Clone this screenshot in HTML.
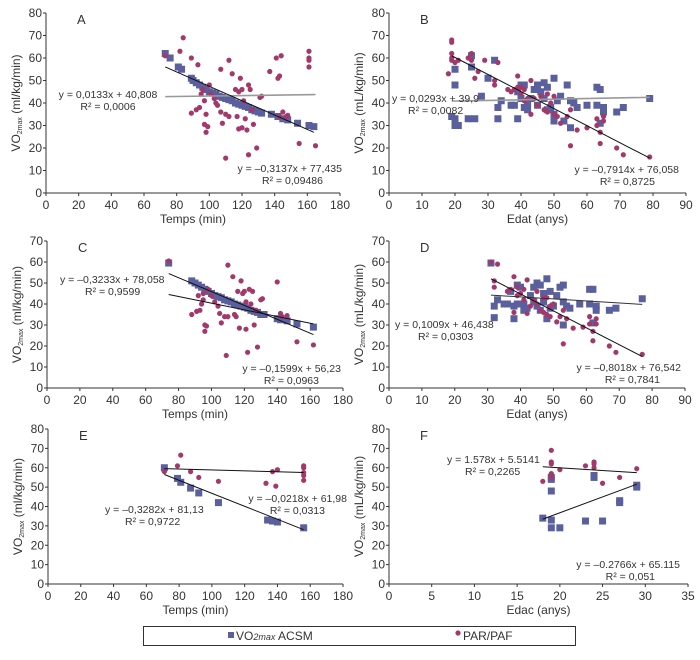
<!DOCTYPE html>
<html><head><meta charset="utf-8"><style>
html,body{margin:0;padding:0;background:#fff;}
svg{display:block;font-family:"Liberation Sans",sans-serif;}
</style></head><body>
<svg id="chart" width="700" height="660" viewBox="0 0 700 660"></svg>
<script>
// ---- Panel A data ----
const aSqX=[73,76,81,83,89,90,92,94,96,98,100,102,104,106,108,110,112,114,116,118,120,122,124,126,128,130,132,138,142,145,148,154,161,164];
const aSqY=[62,60,56,55,51,50,49,48,47,46,45,44.5,44,43,42.5,42,41.5,41,40,39.5,39,38.5,38,37,36.5,36,35.5,35,34,33,32.5,31,30,29.5];
const aDotX=[73,82,84,89,93,89,92,94,95,96,97,98,97,98,99,100,101,103,104,105,107,107,108,110,112,110,112,114,116,117,118,119,120,118,120,121,122,123,124,125,126,127,124,129,131,132,137,141,142,143,144,143,145,147,148,155,161,161,161,161,165];
const aDotY=[61,63,69,60,57,35.5,37,38,44,46,41,35,30.5,27,29.5,48,44,42,40,39,36,55,31,35,34,15.5,59,53,46,34,45,51,46,28.5,29,41,33,28,48,46,37,30.5,17,20,42.5,43,54,60,51,52,61,34,36,34,34.5,22,63,60,59,56,21];
const aTrendSlope=[0.01,-0.319];
const aTrendIntercept=[42.1,79.3];
const aTrendFrom=[73,73];
const aTrendTo=[165,164];
// ---- Panel B data ----
const bSqX=[19,20,20,20,20,21,24,25,25,26,28,30,32,33,33,34,37,38,39,39,40,40,41,41,42,42,43,44,45,45,46,47,47,48,48,49,50,50,50,51,52,53,54,55,55,56,57,60,63,63,64,64,65,65,69,71,79];
const bSqY=[34,48,55,33,30,30,33,56,61,33,43,51,59,38,33,41,39,39,33,45,48,42,38,48,40,37,42,46,48,39,45,49,42,47,37,38,51,35,32,41,43,32,48,41,29,40,38,39,47,39,46,31,38,36,36,38,42];
const bDotX=[18,19,19,19,19,19,20,21,24,25,25,26,27,29,32,32,33,36,37,38,39,39,40,40,41,41,42,43,43,44,45,46,47,48,48,49,50,50,51,52,54,55,55,57,60,63,63,64,64,65,65,69,71,79];
const bDotY=[53,68,67,62,60,59,58,59,60,62,59,51,54,59,50,48,58,46,45,46,52,47,47,44,41,46,42,50,35,42,39,43,37,36,44,40,43,35,34,31,34,37,21,28,29,30,33,27,22,32,34,20,17,16];
const bTrendSlope=[0.028,-0.758];
const bTrendIntercept=[40.3,75.4];
const bTrendFrom=[19,19];
const bTrendTo=[79,79];
// ---- Panel C data ----
const cSqX=[74,88,90,92,94,96,98,100,102,104,106,108,110,112,114,116,118,120,122,124,126,128,130,132,140,142,146,152,162];
const cSqY=[59.5,51,50,49,48,47,46,45,44,43.5,43,42,41.5,41,40,39.5,39,38.5,38,37,36.5,36,35,35,33,32.5,32,30.5,29];
const cDotX=[74,88,91,92,93,94,95,95,96,96,97,98,100,102,104,105,106,108,109,110,110,113,114,115,116,117,118,119,120,121,121,122,123,124,125,126,127,128,130,131,140,142,143,146,152,162];
const cDotY=[60.5,35,36.5,44,37,40,42,45,30,27,29.5,47,44,41,39,35.5,31,34,15.5,34,58.5,53,35,34,46,28.5,51,45,46,28,41,17,47,40,46,30,37,19.5,42,42.5,50.5,35.5,34,34.5,22,20.5];
const cTrendSlope=[-0.33,-0.159];
const cTrendIntercept=[78.9,56.3];
const cTrendFrom=[74,74];
const cTrendTo=[162,162];
// ---- Panel D data ----
const dSqX=[31,32,32,33,35,36,37,38,38,39,39,40,41,41,42,43,44,44,45,45,46,46,47,47,48,48,49,49,50,51,52,53,53,53,54,55,58,61,61,62,62,63,63,67,69,77];
const dSqY=[59.5,39,33.5,42,40,40,46,33,39,40,49,48,37,40,38,44,48,41,39,50,49,37,45,41,52,33,46,38,39,44,48,49,41,30,39,38,40,47,40,47,31,39,37,37,38,42.5];
const dDotX=[31,32,32,33,36,37,38,38,39,39,40,41,41,42,42,43,44,45,45,46,47,47,48,48,49,49,50,51,52,53,53,54,56,59,61,61,62,62,63,63,67,69,77];
const dDotY=[60,48,51,59,46,47,53,36,48,44,45,47,42,51.5,35.5,39,42,46,40,37,43,36,35,43,39,34,40,31.5,34,37,21,33,28.5,29,34,30.5,22.5,27,33,30.5,20,17,16];
const dTrendSlope=[-0.096,-0.804];
const dTrendIntercept=[47.2,76.9];
const dTrendFrom=[31,31];
const dTrendTo=[77,77];
// ---- Panel E data ----
const eSqX=[71,79,81,87,92,104,134,137,140,156];
const eSqY=[60,54.5,52.5,49.5,47,42,33,32.5,32,29];
const eDotX=[71,79,81,87,92,104,133,137,139,140,156,156,156,156,156];
const eDotY=[58,61,66.5,58,55,53,52,58,50.5,59,61,60,57.5,56,53.5];
const eTrendSlope=[-0.335,-0.0235];
const eTrendIntercept=[80.3,61.2];
const eTrendFrom=[71,71];
const eTrendTo=[156,156];
// ---- Panel F data ----
const fSqX=[18,19,19,19,19,19,20,23,24,24,25,27,27,29,29];
const fSqY=[34,55,54,48,33,29,29,32.5,56,55,32.5,43,42,51,50];
const fDotX=[18,19,19,19,19,19,19,20,23,24,24,24,25,27,29];
const fDotY=[53,69,63,62,57,56,55,59,61,63,62,60,52,55,59.5];
const fTrendSlope=[1.636,-0.273];
const fTrendIntercept=[4.05,65.4];
const fTrendFrom=[18,18];
const fTrendTo=[29,29];

const SQ='#5a5f9e', DOT='#a3386a';
const svg=document.getElementById('chart');
const NS='http://www.w3.org/2000/svg';
function mk(tag,attrs,parent){const e=document.createElementNS(NS,tag);for(const k in attrs)e.setAttribute(k,attrs[k]);(parent||svg).appendChild(e);return e;}

const panels=[
 {id:'a',letter:'A',x0:46,x1:340,yTop:13,yBot:193,xMax:180,xStep:20,yMax:80,xt:'Temps (min)',unit:'ml/kg/min',sx:aSqX,sy:aSqY,dx:aDotX,dy:aDotY,ts:aTrendSlope,ti:aTrendIntercept,tf:aTrendFrom,tt:aTrendTo,tc:['#999','#111'],
  notes:[['y = 0,0133x + 40,808',108,98,'middle'],['R² = 0,0006',108,110,'middle'],['y = –0,3137x + 77,435',342,172,'end'],['R² = 0,09486',323,184,'end']]},
 {id:'b',letter:'B',x0:389,x1:686,yTop:13,yBot:193,xMax:90,xStep:10,yMax:80,xt:'Edat (anys)',unit:'mL/kg/min',sx:bSqX,sy:bSqY,dx:bDotX,dy:bDotY,ts:bTrendSlope,ti:bTrendIntercept,tf:bTrendFrom,tt:bTrendTo,tc:['#999','#111'],
  notes:[['y = 0,0293x + 39,9',392,102,'start'],['R² = 0,0082',408,114,'start'],['y = –0,7914x + 76,058',679,173,'end'],['R² = 0,8725',655,185,'end']]},
 {id:'c',letter:'C',x0:47,x1:343,yTop:241,yBot:388,xMax:180,xStep:20,yMax:70,xt:'Temps (min)',unit:'ml/kg/min',sx:cSqX,sy:cSqY,dx:cDotX,dy:cDotY,ts:cTrendSlope,ti:cTrendIntercept,tf:cTrendFrom,tt:cTrendTo,tc:['#111','#111'],
  notes:[['y = –0,3233x + 78,058',60,283,'start'],['R² = 0,9599',85,295,'start'],['y = –0,1599x + 56,23',341,372,'end'],['R² = 0,0963',319,384,'end']]},
 {id:'d',letter:'D',x0:389,x1:685,yTop:241,yBot:388,xMax:90,xStep:10,yMax:70,xt:'Edat (anys)',unit:'mL/kg/min',sx:dSqX,sy:dSqY,dx:dDotX,dy:dDotY,ts:dTrendSlope,ti:dTrendIntercept,tf:dTrendFrom,tt:dTrendTo,tc:['#333','#111'],
  notes:[['y = 0,1009x + 46,438',395,328,'start'],['R² = 0,0303',418,340,'start'],['y = –0,8018x + 76,542',681,371,'end'],['R² = 0,7841',660,383,'end']]},
 {id:'e',letter:'E',x0:48,x1:343,yTop:429,yBot:584,xMax:180,xStep:20,yMax:80,xt:'Temps (min)',unit:'ml/kg/min',sx:eSqX,sy:eSqY,dx:eDotX,dy:eDotY,ts:eTrendSlope,ti:eTrendIntercept,tf:eTrendFrom,tt:eTrendTo,tc:['#111','#111'],
  notes:[['y = –0,3282x + 81,13',105,513,'start'],['R² = 0,9722',125,525,'start'],['y = –0,0218x + 61,98',347,502,'end'],['R² = 0,0313',325,514,'end']]},
 {id:'f',letter:'F',x0:389,x1:688,yTop:429,yBot:584,xMax:35,xStep:5,yMax:80,xt:'Edac (anys)',unit:'mL/kg/min',sx:fSqX,sy:fSqY,dx:fDotX,dy:fDotY,ts:fTrendSlope,ti:fTrendIntercept,tf:fTrendFrom,tt:fTrendTo,tc:['#111','#111'],
  notes:[['y = 1.578x + 5.5141',447,463,'start'],['R² = 0,2265',465,475,'start'],['y = –0.2766x + 65.115',680,568,'end'],['R² = 0,051',655,580,'end']]}
];

panels.forEach(p=>{
  const g=mk('g',{});
  
  
  const X=v=>p.x0+(v/p.xMax)*(p.x1-p.x0);
  const Y=v=>p.yBot-(v/p.yMax)*(p.yBot-p.yTop);
  const ya=mk('line',{x1:p.x0,y1:p.yTop,x2:p.x0,y2:p.yBot,stroke:'#333','stroke-width':1},g);
  
  
  const xa=mk('line',{x1:p.x0,y1:p.yBot,x2:p.x1,y2:p.yBot,stroke:'#333','stroke-width':1},g);
  
  
  for(let v=0;v<=p.yMax;v+=10){
    mk('line',{x1:p.x0-3,y1:Y(v),x2:p.x0,y2:Y(v),stroke:'#333'},g);
    const t=mk('text',{x:p.x0-4,y:Y(v)+4,'text-anchor':'end','font-size':12,fill:'#333'},g);
    t.textContent=v;
    
    
  }
  for(let v=0;v<=p.xMax;v+=p.xStep){
    mk('line',{x1:X(v),y1:p.yBot,x2:X(v),y2:p.yBot+3,stroke:'#333'},g);
    const t=mk('text',{x:X(v),y:p.yBot+16,'text-anchor':'middle','font-size':12,fill:'#333'},g);
    t.textContent=v;
    
    
  }
  const xt=mk('text',{x:(p.x0+p.x1)/2,y:p.yBot+30,'text-anchor':'middle','font-size':12,fill:'#333'},g);
  xt.textContent=p.xt;
  
  
  const cy=(p.yTop+p.yBot)/2, cx=p.x0-26;
  const yt=mk('text',{x:cx,y:cy,'text-anchor':'middle','font-size':12,fill:'#333',transform:`rotate(-90 ${cx} ${cy})`},g);
  yt.innerHTML='VO<tspan font-size="7" dy="2">2max</tspan><tspan dy="-2"> ('+p.unit+')</tspan>';
  
  
  const lt=mk('text',{x:p.x0+31,y:p.yTop+11,'font-size':13,fill:'#333'},g);
  lt.textContent=p.letter;
  
  
  p.sx.forEach((v,i)=>{
    const r=mk('rect',{x:X(v)-3.5,y:Y(p.sy[i])-3.5,width:7,height:7,fill:SQ},g);
    
    
  });
  p.dx.forEach((v,i)=>{
    const c=mk('circle',{cx:X(v),cy:Y(p.dy[i]),r:2.6,fill:DOT},g);
    
    
  });
  p.ts.forEach((s,i)=>{
    const a=p.tf[i], b=p.tt[i];
    const l=mk('line',{x1:X(a),y1:Y(s*a+p.ti[i]),x2:X(b),y2:Y(s*b+p.ti[i]),stroke:p.tc[i],'stroke-width':p.tc[i]=='#999'?1.6:1},g);
    
    
  });
  p.notes.forEach(n=>{
    const t=mk('text',{x:n[1],y:n[2],'text-anchor':n[3],'font-size':10.5,fill:'#333'},g);
    t.textContent=n[0];
    
    
  });
});
</script>
<script>
(function(){
const svg=document.getElementById('chart');
const NS='http://www.w3.org/2000/svg';
const g=document.createElementNS(NS,'g');


svg.appendChild(g);
g.innerHTML='<rect x="143.5" y="626.5" width="432" height="19" fill="#fff" stroke="#333"/>'+
'<rect x="228" y="632" width="6" height="6" fill="#5a5f9e"/>'+
'<text x="236" y="640" font-size="12" fill="#333">VO<tspan font-size="9" font-style="italic">2max</tspan> ACSM</text>'+
'<circle cx="458" cy="633" r="2.6" fill="#a3386a"/>'+
'<text x="463" y="640" font-size="12" fill="#333">PAR/PAF</text>';
})();
</script>
</body></html>
